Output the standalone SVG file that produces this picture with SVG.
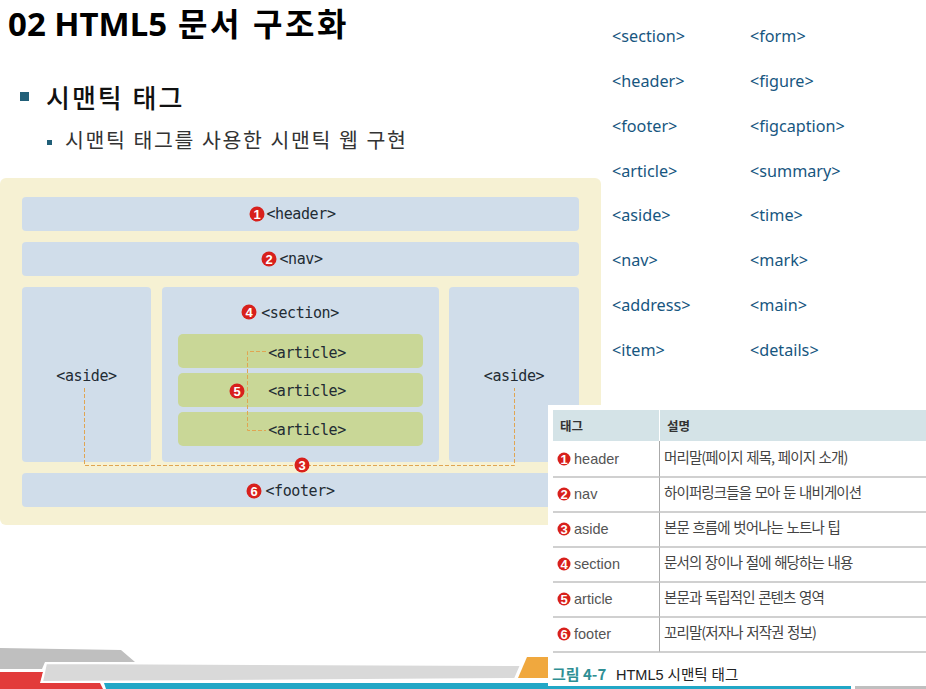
<svg xmlns="http://www.w3.org/2000/svg" width="926" height="689" viewBox="0 0 926 689" font-family="'Noto Sans','Noto Sans CJK KR',sans-serif">
<style>
.box{fill:#d0ddea}
.art{fill:#c9d797}
.tag{font-family:"DejaVu Sans Mono","Noto Sans CJK KR",monospace;font-size:15px;letter-spacing:-0.4px;fill:#222b33;text-anchor:middle}
.badge circle{fill:#d8201c}
.badge text{font-family:"Liberation Sans",sans-serif;font-size:13px;font-weight:700;fill:#fff;text-anchor:middle}
.list text{font-size:16.2px;fill:#17567f}
.dash{fill:none;stroke:#e0a552;stroke-width:1;stroke-dasharray:4 2}
.th{font-family:"Noto Sans CJK KR",sans-serif;font-size:12.5px;font-weight:700;fill:#333}
.td text{font-family:"Liberation Sans",sans-serif;font-size:14.5px;fill:#555}
.td text.ko{font-family:"Noto Sans CJK KR",sans-serif;font-size:14.5px;letter-spacing:-0.9px;word-spacing:1.2px;fill:#444}
.rule{stroke:#c0c0c0;stroke-width:1.5}
</style>
<rect width="926" height="689" fill="#fff"/>
<g id="footer-art">
<polygon points="0,648 121,650 135,662 45,662 42,669 0,669" fill="#bfbfbf"/>
<polygon points="0,672 43,672 40,683 100,683 103,689 0,689" fill="#e23b3b"/>
<polygon points="104,683 926,683 926,689 106,689" fill="#22a7c6"/>
<polygon points="527,657 552,657 552,678 518,678" fill="#f0a83e"/>
<polygon points="46,663 521,665 515,679 42,682" fill="#d9d9d9" stroke="#fff" stroke-width="2"/>
</g>
<g id="heading">
<text y="36" font-weight="700" fill="#000"><tspan x="8" font-size="33">02 HTML5</tspan><tspan x="178" font-size="32" letter-spacing="2.500">문서</tspan><tspan x="253" font-size="32" letter-spacing="2.500">구조화</tspan></text>
<rect x="20" y="92" width="9" height="9" fill="#215f78"/>
<text x="46" y="108" font-size="26" font-weight="500" letter-spacing="2" fill="#111">시맨틱 태그</text>
<rect x="47" y="140" width="5" height="5" fill="#215f78"/>
<text x="65" y="148" font-size="20.500" fill="#333" letter-spacing="1.650">시맨틱 태그를 사용한 시맨틱 웹 구현</text>
</g>
<g id="tag-list" class="list">
<text x="612" y="42">&lt;section&gt;</text><text x="750" y="42">&lt;form&gt;</text>
<text x="612" y="87">&lt;header&gt;</text><text x="750" y="87">&lt;figure&gt;</text>
<text x="612" y="132">&lt;footer&gt;</text><text x="750" y="132">&lt;figcaption&gt;</text>
<text x="612" y="177">&lt;article&gt;</text><text x="750" y="177">&lt;summary&gt;</text>
<text x="612" y="221">&lt;aside&gt;</text><text x="750" y="221">&lt;time&gt;</text>
<text x="612" y="266">&lt;nav&gt;</text><text x="750" y="266">&lt;mark&gt;</text>
<text x="612" y="311">&lt;address&gt;</text><text x="750" y="311">&lt;main&gt;</text>
<text x="612" y="356">&lt;item&gt;</text><text x="750" y="356">&lt;details&gt;</text>
</g>
<g id="page"><rect x="0" y="178" width="601" height="347" rx="6" fill="#f6f1d3"/></g>
<g id="node-header"><rect class="box" x="22" y="197" width="557" height="34" rx="4"/><text class="tag" x="301" y="219">&lt;header&gt;</text></g>
<g id="node-nav"><rect class="box" x="22" y="242" width="557" height="34" rx="4"/><text class="tag" x="301" y="264">&lt;nav&gt;</text></g>
<g id="node-aside-left"><rect class="box" x="22" y="287" width="129" height="175" rx="4"/><text class="tag" x="86.500" y="381">&lt;aside&gt;</text></g>
<g id="node-section"><rect class="box" x="162" y="287" width="277" height="175" rx="4"/><text class="tag" x="300" y="318">&lt;section&gt;</text></g>
<g id="node-aside-right"><rect class="box" x="449" y="287" width="130" height="175" rx="4"/><text class="tag" x="514" y="381">&lt;aside&gt;</text></g>
<g id="node-article-1"><rect class="art" x="178" y="334" width="245" height="34" rx="5"/><text class="tag" x="307" y="358">&lt;article&gt;</text></g>
<g id="node-article-2"><rect class="art" x="178" y="373" width="245" height="34" rx="5"/><text class="tag" x="307" y="396">&lt;article&gt;</text></g>
<g id="node-article-3"><rect class="art" x="178" y="412" width="245" height="34" rx="5"/><text class="tag" x="307" y="435">&lt;article&gt;</text></g>
<g id="node-footer"><rect class="box" x="22" y="473" width="557" height="34" rx="4"/><text class="tag" x="300" y="496">&lt;footer&gt;</text></g>
<g id="connectors">
<path class="dash" d="M84.500 388V465.500H514.500V388"/>
<path class="dash" d="M266 351.500H247.500V430.500H266"/>
</g>
<g id="badges" class="badge">
<g><circle cx="257" cy="214" r="7.500"/><text x="257" y="218.500">1</text></g>
<g><circle cx="269" cy="259" r="7.500"/><text x="269" y="263.500">2</text></g>
<g><circle cx="249" cy="312" r="7.500"/><text x="249" y="316.500">4</text></g>
<g><circle cx="237" cy="391" r="7.500"/><text x="237" y="395.500">5</text></g>
<g><circle cx="302" cy="465" r="7.500"/><text x="302" y="469.500">3</text></g>
<g><circle cx="254" cy="491" r="7.500"/><text x="254" y="495.500">6</text></g>
</g>
<g id="table">
<rect x="548" y="405" width="378" height="284" fill="#fff"/>
<rect x="553" y="410" width="373" height="31" fill="#d4e3e7"/>
<line x1="659.500" y1="410" x2="659.500" y2="652" stroke="#aaa" stroke-width="1"/>
<line x1="659.500" y1="410" x2="659.500" y2="441" stroke="#fff" stroke-width="1"/>
<g class="rule">
<line x1="553" y1="477" x2="926" y2="477"/><line x1="553" y1="512" x2="926" y2="512"/><line x1="553" y1="547" x2="926" y2="547"/><line x1="553" y1="582" x2="926" y2="582"/><line x1="553" y1="617" x2="926" y2="617"/><line x1="553" y1="652" x2="926" y2="652"/>
</g>
<text class="th" x="560" y="431">태그</text><text class="th" x="667" y="431">설명</text>
<g class="badge">
<g><circle cx="564" cy="459" r="6.500"/><text x="564" y="463.500">1</text></g>
<g><circle cx="564" cy="494" r="6.500"/><text x="564" y="498.500">2</text></g>
<g><circle cx="564" cy="529" r="6.500"/><text x="564" y="533.500">3</text></g>
<g><circle cx="564" cy="564" r="6.500"/><text x="564" y="568.500">4</text></g>
<g><circle cx="564" cy="599" r="6.500"/><text x="564" y="603.500">5</text></g>
<g><circle cx="564" cy="634" r="6.500"/><text x="564" y="638.500">6</text></g>
</g>
<g class="td">
<text x="574" y="464">header</text><text class="ko" x="664" y="463">머리말(페이지 제목, 페이지 소개)</text>
<text x="574" y="499">nav</text><text class="ko" x="664" y="498">하이퍼링크들을 모아 둔 내비게이션</text>
<text x="574" y="534">aside</text><text class="ko" x="664" y="533">본문 흐름에 벗어나는 노트나 팁</text>
<text x="574" y="569">section</text><text class="ko" x="664" y="568">문서의 장이나 절에 해당하는 내용</text>
<text x="574" y="604">article</text><text class="ko" x="664" y="603">본문과 독립적인 콘텐츠 영역</text>
<text x="574" y="639">footer</text><text class="ko" x="664" y="638">꼬리말(저자나 저작권 정보)</text>
</g>
<text x="552" y="680" font-family="'Noto Sans CJK KR',sans-serif" font-size="15" font-weight="700" fill="#2f8f94">그림 4-7</text>
<text x="616" y="680" font-family="'Liberation Sans','Noto Sans CJK KR',sans-serif" font-size="14.500" fill="#222">HTML5 시맨틱 태그</text>
<rect x="548" y="686" width="303" height="3" fill="#22a7c6"/>
<rect x="855" y="686" width="71" height="3" fill="#bfbfbf"/>
</g>
</svg>
